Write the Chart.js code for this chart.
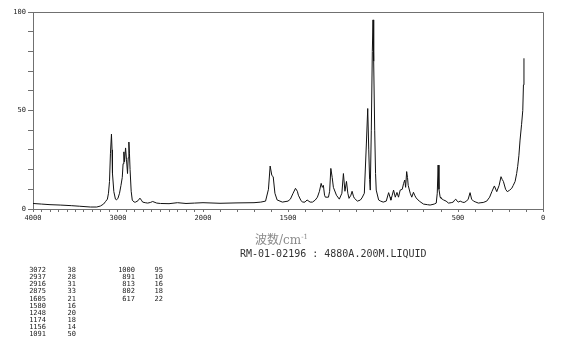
<!DOCTYPE html>
<html>
<head>
<meta charset="utf-8">
<script src="https://cdn.jsdelivr.net/npm/chart.js@4"></script>
<style>
  body { margin: 0; background: #fff; }
  #wrap { position: relative; width: 570px; height: 346px; }
  .txt { position: absolute; white-space: pre; }
  #xtitle { left: 255px; top: 230px; font: 12px "DejaVu Serif", "Noto Sans CJK SC"; color: #8a8a8a; }
  #xtitle sup { font-size: 7px; }
  #sample { left: 240px; top: 248px; font: 10px "DejaVu Sans Mono"; color: #333; }
  .col { position: absolute; top: 267px; font: 7px "DejaVu Sans Mono"; line-height: 7.15px; color: #222; text-align: right; }
</style>
</head>
<body>
<div id="wrap">
  <canvas id="spectrum"></canvas>
  <div class="txt" id="xtitle">波数/cm<sup>-1</sup></div>
  <div class="txt" id="sample">RM-01-02196 : 4880A.200M.LIQUID</div>
</div>
<script>
// Raman spectrum (wavenumber cm-1, intensity)
const wavenumbers = [4000, 3900, 3800, 3680, 3550, 3450, 3325, 3250, 3207, 3170, 3148, 3125, 3112, 3100, 3089, 3077, 3070, 3065, 3049, 3030,
  3018, 3000, 2982, 2965, 2950, 2940, 2931, 2923, 2911, 2900, 2888, 2880, 2872, 2865, 2858, 2845, 2832, 2810, 2793, 2765,
  2742, 2725, 2710, 2680, 2651, 2620, 2592, 2544, 2500, 2400, 2300, 2200, 2100, 2000, 1900, 1800, 1700, 1660, 1632, 1615,
  1605, 1595, 1587, 1577, 1564, 1533, 1500, 1486, 1470, 1456, 1445, 1439, 1425, 1415, 1400, 1388, 1370, 1356, 1340, 1327,
  1315, 1305, 1298, 1292, 1285, 1280, 1262, 1255, 1248, 1240, 1233, 1215, 1198, 1183, 1174, 1165, 1156, 1148, 1141, 1130,
  1123, 1115, 1110, 1092, 1075, 1065, 1051, 1039, 1031, 1025, 1020, 1016, 1010, 1004, 1000, 996, 990, 985, 981, 967,
  955, 940, 922, 908, 900, 895, 887, 879, 869, 859, 850, 840, 828, 820, 813, 808, 802, 797, 793, 781,
  772, 762, 755, 746, 728, 703, 680, 664, 640, 628, 622, 617, 612, 605, 601, 585, 570, 556, 540, 528,
  520, 513, 505, 499, 487, 475, 464, 450, 440, 429, 420, 409, 395, 380, 365, 352, 331, 314, 301, 286,
  272, 258, 247, 240, 233, 220, 210, 197, 184, 175, 164, 155, 149, 142, 135, 126, 119, 115, 112];
const intensities = [2.8, 2.5, 2.2, 2.0, 1.7, 1.4, 1.0, 1.0, 1.5, 2.5, 3.7, 5, 8, 14, 28, 38, 30, 18, 8.8, 5,
  4.6, 5.5, 8, 12, 16, 23, 29, 24, 31, 25, 18, 26, 34, 28, 20, 9, 4.5, 3.5, 3.5, 4.2,
  5.5, 4.5, 3.5, 3.2, 3, 3.3, 3.8, 3, 2.8, 2.7, 3.2, 2.8, 3, 3.2, 2.9, 3.1, 3.2, 3.5, 4, 10,
  21.8, 17, 16.4, 8, 4.6, 3.5, 4, 5, 8, 10.5, 9, 7, 4.5, 3.5, 3.5, 4.6, 3.5, 3.5, 4.5, 6,
  9, 13, 11, 12, 7, 6, 6, 9, 20.6, 16, 11, 7, 5, 8, 18, 9, 14, 8, 5.4, 7,
  9, 6.5, 5.5, 4, 4.5, 5.6, 8, 33, 51, 30, 15, 9.6, 40, 80, 96, 75, 40, 18, 9.6, 4.6,
  4, 3.5, 4, 8.3, 6, 4.5, 7, 9.6, 6, 8.4, 6, 9.6, 10, 13, 14.7, 11, 19, 16, 12, 8,
  6, 8.5, 7, 5.6, 4, 2.5, 2.2, 2, 2.5, 3, 8, 22.3, 10, 6, 5.5, 4.6, 4, 3, 3.2, 3.5,
  4.5, 5, 4, 3.5, 4, 3.5, 3.3, 4, 5, 8.3, 5, 4, 3.5, 3, 3.2, 3.3, 4, 6, 8.8, 11.7,
  8.8, 12, 16.4, 15, 14, 10, 8.8, 9.5, 10.5, 12, 14, 18, 21.5, 27, 35, 43, 50, 63, 76.5];

// peak table printed under the chart
const peakWnA = ["3072", "2937", "2916", "2875", "1605", "1580", "1248", "1174", "1156", "1091"];
const peakIntA = ["38", "28", "31", "33", "21", "16", "20", "18", "14", "50"];
const peakWnB = ["1000", "891", "813", "802", "617"];
const peakIntB = ["95", "10", "16", "18", "22"];

const xTickLabels = [4000, 3000, 2000, 1500, 500, 0];
const yTickLabels = [0, 50, 100];

// axis is compressed 2x above 2000 cm-1
const fold = w => w <= 2000 ? w : 2000 + (w - 2000) / 2;
const unfold = u => u <= 2000 ? u : 2000 + (u - 2000) * 2;

function addColumn(items, right) {
  const d = document.createElement("div");
  d.className = "col";
  d.style.right = (570 - right) + "px";
  d.innerHTML = items.join("<br>");
  document.getElementById("wrap").appendChild(d);
}
addColumn(peakWnA, 46);
addColumn(peakIntA, 76);
addColumn(peakWnB, 135);
addColumn(peakIntB, 163);

const axisGray = "#707070";

// top and right edges of the plot frame
const framePlugin = {
  id: "frame",
  afterDraw(chart) {
    const { ctx, chartArea: a } = chart;
    ctx.save();
    ctx.strokeStyle = axisGray;
    ctx.lineWidth = 1;
    ctx.beginPath();
    ctx.moveTo(a.left, a.top + 0.5);
    ctx.lineTo(a.right + 0.5, a.top + 0.5);
    ctx.lineTo(a.right + 0.5, a.bottom);
    ctx.stroke();
    ctx.restore();
  }
};

new Chart(document.getElementById("spectrum"), {
  type: "scatter",
  data: {
    datasets: [{
      data: wavenumbers.map((w, i) => ({ x: fold(w), y: intensities[i] })),
      showLine: true,
      borderColor: "#111",
      borderWidth: 1,
      pointRadius: 0,
      tension: 0
    }]
  },
  options: {
    responsive: true,
    maintainAspectRatio: false,
    animation: false,
    layout: { padding: { top: 12, right: 27, bottom: 117, left: 0 } },
    plugins: { legend: { display: false }, tooltip: { enabled: false } },
    scales: {
      x: {
        type: "linear",
        reverse: true,
        min: 0,
        max: fold(4000),
        afterFit: s => { s.height = 20; },
        afterBuildTicks: s => {
          const t = [];
          for (let w = 0; w <= 4000; w += 100) t.push({ value: fold(w) });
          s.ticks = t;
        },
        grid: { drawOnChartArea: false, tickLength: 3, color: axisGray },
        border: { color: axisGray },
        ticks: {
          autoSkip: false,
          maxRotation: 0,
          padding: 2,
          color: "#222",
          font: { family: "DejaVu Sans Mono", size: 7 },
          callback: v => {
            const w = Math.round(unfold(v));
            return xTickLabels.includes(w) ? String(w) : "";
          }
        }
      },
      y: {
        min: 0,
        max: 100,
        afterFit: s => { s.width = 33; },
        grid: { drawOnChartArea: false, tickLength: 5, color: axisGray },
        border: { color: axisGray },
        ticks: {
          stepSize: 10,
          autoSkip: false,
          padding: 2,
          color: "#222",
          font: { family: "DejaVu Sans Mono", size: 7 },
          callback: v => yTickLabels.includes(v) ? String(v) : ""
        }
      }
    }
  },
  plugins: [framePlugin]
});
</script>
</body>
</html>
